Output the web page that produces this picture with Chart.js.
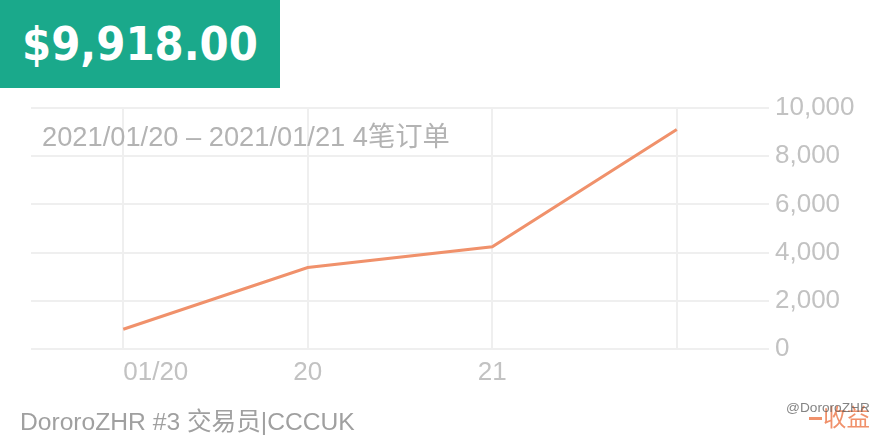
<!DOCTYPE html>
<html>
<head>
<meta charset="utf-8">
<script src="https://cdn.jsdelivr.net/npm/chart.js@4.4.0/dist/chart.umd.min.js"></script>
<style>
  html, body { margin:0; padding:0; background:#fff; }
  #wrap { position:relative; width:880px; height:440px; overflow:hidden; background:#fff; }
  #c { position:absolute; left:0; top:0; }
  .t { position:absolute; white-space:nowrap; line-height:1; }
  #head { position:absolute; left:0; top:0; width:280px; height:88px; background:#1aa98b; }
  #amount { color:#fff; font-family:"DejaVu Sans Condensed","DejaVu Sans",sans-serif; font-weight:bold; font-stretch:condensed; }
  #sub { color:#b3b3b3; font-family:"Liberation Sans","Noto Sans CJK SC",sans-serif; }
  #foot { color:#a0a0a0; font-family:"Liberation Sans","Noto Sans CJK SC",sans-serif; }
  #leg { color:#f0916b; font-family:"Noto Sans CJK SC",sans-serif; }
  #legline { position:absolute; left:809px; top:417px; width:13px; height:3px; background:#f0916b; }
  #wm { color:rgba(90,90,90,0.75); font-family:"Liberation Sans",sans-serif; }
</style>
</head>
<body>
<div id="wrap">
  <canvas id="c" width="880" height="440"></canvas>
  <div id="head"></div>
  <div class="t" id="amount" data-w="236" data-x="22" data-top="28" data-cap="40"></div>
  <div class="t" id="sub" data-w="408" data-x="42" data-top="127" data-cap="19"></div>
  <div class="t" id="foot" data-w="335" data-x="20" data-top="414" data-cap="19"></div>
  <div id="legline"></div>
  <div class="t" id="leg" data-w="47" data-x="823" data-top="409" data-cap="24"></div>
  <div class="t" id="wm" data-w="84" data-x="786" data-top="403" data-cap="11"></div>
</div>
<script>
// ---- data ----
const categories = ['01/20', '20', '21', ''];
const revenue = [820, 3380, 4240, 9110];
const yMin = 0;
const yMax = 10000;
const yStep = 2000;
const seriesName = '收益';
const totalLabel = '$9,918.00';
const subtitle = '2021/01/20 – 2021/01/21 4笔订单';
const footer = 'DororoZHR #3 交易员|CCCUK';
const watermark = '@DororoZHR';

document.getElementById('amount').textContent = totalLabel;
document.getElementById('sub').textContent = subtitle;
document.getElementById('foot').textContent = footer;
document.getElementById('leg').textContent = seriesName;
document.getElementById('wm').textContent = watermark;

// fit overlay texts to target widths
document.querySelectorAll('.t').forEach(el => {
  el.style.fontSize = '100px';
  const w = el.getBoundingClientRect().width;
  const target = parseFloat(el.dataset.w);
  const fs = 100 * target / w;
  el.style.fontSize = fs + 'px';
  el.style.left = el.dataset.x + 'px';
  // approximate cap top offset within line box
  el.style.top = (parseFloat(el.dataset.top) - fs * 0.16) + 'px';
});

const tickFont = { family: '"Liberation Sans", sans-serif', size: 26 };
const tickColor = '#c2c2c2';
const gridColor = '#efefef';

new Chart(document.getElementById('c'), {
  type: 'line',
  data: {
    labels: categories,
    datasets: [{
      label: seriesName,
      data: revenue,
      borderColor: '#f0916b',
      backgroundColor: '#f0916b',
      borderWidth: 3,
      pointRadius: 0,
      tension: 0,
      fill: false
    }]
  },
  options: {
    responsive: false,
    animation: false,
    layout: { padding: { left: 31, top: 108, right: 0, bottom: 0 } },
    plugins: { legend: { display: false }, tooltip: { enabled: false } },
    scales: {
      x: {
        offset: true,
        grid: { color: gridColor, lineWidth: 2, drawTicks: false, offset: false },
        border: { display: false },
        ticks: { font: tickFont, color: tickColor, padding: 8, align: 'inner', maxRotation: 0, autoSkip: false },
        afterFit: s => { s.height = 91; }
      },
      y: {
        position: 'right',
        min: yMin, max: yMax,
        grid: { color: gridColor, lineWidth: 2, drawTicks: false },
        border: { display: false },
        ticks: {
          stepSize: yStep, font: tickFont, color: tickColor, padding: 6,
          callback: v => Number(v).toLocaleString('en-US')
        },
        afterFit: s => { s.width = 111; }
      }
    }
  }
});
</script>
</body>
</html>
